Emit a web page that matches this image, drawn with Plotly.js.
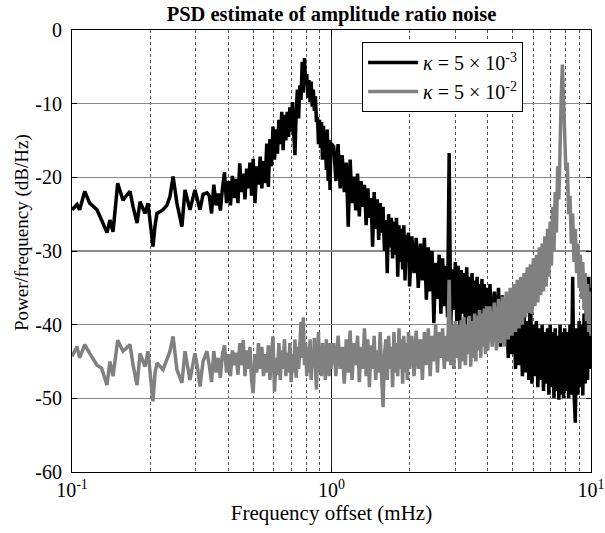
<!DOCTYPE html>
<html>
<head>
<meta charset="utf-8">
<script src="https://cdn.plot.ly/plotly-3.0.1.min.js"></script>
<style>html,body{margin:0;padding:0;background:#fff;}#chart{width:605px;height:533px;}</style>
</head>
<body>
<div id="chart"></div>
<script>
// Frequency offset (mHz)
const freq = [
  0.100, 0.1045, 0.107, 0.112, 0.117, 0.1248, 0.130, 0.1364, 0.140, 0.1439,
  0.150, 0.1572, 0.162, 0.1673, 0.1720, 0.1781, 0.1829, 0.1911, 0.1963, 0.2051,
  0.2090, 0.2126, 0.2243, 0.2320, 0.2385, 0.2452, 0.2537, 0.2652, 0.2726, 0.2848,
  0.2978, 0.3050, 0.3112, 0.3200, 0.3311,
  0.338, 0.345, 0.352, 0.359, 0.366, 0.373, 0.380, 0.387, 0.394, 0.401,
  0.408, 0.415, 0.422, 0.429, 0.436, 0.443, 0.450, 0.457, 0.464, 0.471,
  0.478, 0.485, 0.492, 0.499, 0.507, 0.515, 0.523, 0.531, 0.539, 0.547,
  0.555, 0.563, 0.571, 0.579, 0.587, 0.595, 0.603, 0.611, 0.619, 0.627,
  0.635, 0.643, 0.651, 0.659, 0.667, 0.675, 0.683, 0.691, 0.699, 0.707,
  0.715, 0.723, 0.731, 0.739, 0.747, 0.755, 0.763, 0.771, 0.779, 0.787,
  0.795, 0.803, 0.811, 0.819, 0.827, 0.835, 0.843, 0.851, 0.859, 0.867,
  0.875, 0.883, 0.891, 0.899, 0.907, 0.915, 0.923, 0.931, 0.939, 0.947,
  0.955, 0.963, 0.971, 0.979, 0.987, 0.995,
  1.02, 1.04, 1.06, 1.08, 1.10, 1.12, 1.14, 1.16, 1.18, 1.20,
  1.22, 1.24, 1.26, 1.28, 1.30, 1.32, 1.34, 1.36, 1.38, 1.40,
  1.42, 1.44, 1.46, 1.48, 1.50, 1.52, 1.54, 1.56, 1.58, 1.60,
  1.62, 1.64, 1.66, 1.68, 1.70, 1.72, 1.74, 1.76, 1.78, 1.80,
  1.82, 1.84, 1.86, 1.88, 1.90, 1.92, 1.94, 1.96, 1.98, 2.00,
  2.04, 2.08, 2.12, 2.16, 2.20, 2.24, 2.28, 2.32, 2.36, 2.40,
  2.44, 2.48, 2.52, 2.56, 2.60, 2.64, 2.68, 2.72, 2.76, 2.80,
  2.84, 2.88, 2.92, 2.96, 3.00, 3.04, 3.08, 3.12, 3.16, 3.20,
  3.24, 3.28, 3.32, 3.36, 3.40, 3.44, 3.48, 3.52, 3.56, 3.60,
  3.64, 3.68, 3.72, 3.76, 3.80, 3.84, 3.88, 3.92, 3.96, 4.00,
  4.08, 4.16, 4.24, 4.32, 4.40, 4.48, 4.56, 4.64, 4.72, 4.80,
  4.88, 4.96, 5.04, 5.12, 5.20, 5.28, 5.36, 5.44, 5.52, 5.60,
  5.68, 5.76, 5.84, 5.92, 6.00, 6.08, 6.16, 6.24, 6.32, 6.40,
  6.48, 6.56, 6.64, 6.72, 6.80, 6.88, 6.96, 7.04, 7.12, 7.20,
  7.28, 7.36, 7.44, 7.52, 7.60, 7.68, 7.76, 7.84, 7.92, 8.00,
  8.10, 8.20, 8.30, 8.40, 8.50, 8.60, 8.70, 8.80, 8.90, 9.00,
  9.10, 9.20, 9.30, 9.40, 9.50, 9.60, 9.70, 9.80, 9.90, 10.00
];

// PSD for kappa = 5e-3 (dB/Hz)
const psdKappa3 = [
  -24.4, -23.7, -24.4, -21.9, -23.5, -24.4, -25.8, -27.5, -25.8, -27.4,
  -20.8, -23.1, -22.5, -21.9, -24.0, -26.2, -23.3, -24.9, -23.5, -29.4,
  -26.5, -24.9, -24.4, -23.8, -22.6, -19.9, -23.5, -26.7, -21.7, -24.4,
  -21.7, -23.0, -24.4, -22.3, -22.1,
  -22.5, -24.9, -21.0, -23.8, -22.2, -24.5, -21.5, -19.3, -23.5, -20.5,
  -23.8, -19.8, -22.8, -20.2, -23.5, -18.1, -22.0, -19.5, -23.0, -18.8,
  -21.5, -18.0, -22.5, -17.5, -23.5, -18.5, -21.0, -17.2, -21.5, -17.8,
  -20.8, -15.4, -21.3, -14.8, -18.5, -13.1, -17.6, -13.5, -16.8, -12.2,
  -15.5, -11.1, -16.3, -11.5, -15.0, -11.1, -14.5, -10.5, -13.8, -9.8,
  -14.0, -17.0, -11.0, -8.1, -12.0, -7.5, -9.5, -4.3, -8.5, -3.8,
  -7.5, -6.0, -9.2, -6.8, -9.8, -7.0, -10.4, -8.1, -11.0, -9.0,
  -12.5, -11.8, -15.5, -12.2, -16.0, -12.5, -17.6, -13.0, -16.5, -14.0,
  -19.0, -13.5, -20.5, -14.9, -21.7, -15.4,
  -15.8, -20.5, -15.5, -21.5, -17.0, -22.0, -18.0, -26.7, -17.6, -23.5,
  -19.9, -24.5, -19.5, -25.3, -20.5, -24.0, -21.0, -26.5, -21.5, -25.5,
  -22.8, -29.4, -22.0, -27.0, -23.0, -28.5, -23.5, -27.5, -24.0, -30.0,
  -25.8, -33.0, -25.0, -29.5, -25.5, -31.0, -26.0, -30.5, -25.5, -33.5,
  -26.5, -31.5, -27.0, -32.5, -26.5, -34.0, -27.8, -31.5, -27.5, -34.8,
  -28.0, -33.0, -28.2, -35.0, -29.0, -34.0, -28.2, -36.6, -29.5, -35.5,
  -30.0, -39.8, -31.6, -36.5, -30.5, -38.5, -31.0, -37.5, -32.0, -39.0,
  -16.7, -40.3, -32.5, -38.0, -31.5, -39.5, -32.0, -40.3, -32.6, -38.5,
  -33.0, -40.0, -32.2, -39.0, -33.5, -40.5, -33.0, -39.5, -34.0, -40.5,
  -33.5, -41.0, -34.5, -40.0, -33.8, -41.5, -34.5, -40.5, -35.0, -41.5,
  -34.5, -42.0, -35.5, -41.0, -35.0, -43.0, -36.0, -42.5, -37.0, -44.5,
  -36.5, -44.0, -38.0, -46.0, -38.5, -45.5, -39.0, -47.0, -38.5, -46.5,
  -39.5, -47.5, -34.3, -48.0, -40.0, -47.0, -39.5, -48.5, -40.5, -47.5,
  -40.0, -49.0, -41.0, -48.0, -40.5, -49.5, -40.0, -48.5, -41.0, -50.0,
  -40.5, -49.0, -41.5, -50.2, -40.0, -49.5, -41.0, -50.0, -40.5, -49.0,
  -41.0, -50.0, -40.0, -49.5, -33.5, -49.0, -53.3, -40.5, -49.5, -39.5,
  -48.5, -40.0, -49.6, -38.5, -48.0, -36.0, -47.5, -33.5, -46.0, -35.0
];

// PSD for kappa = 5e-2 (dB/Hz)
const psdKappa2 = [
  -44.3, -43.0, -44.5, -42.7, -43.9, -45.5, -45.9, -48.2, -45.0, -47.0,
  -42.1, -43.6, -43.2, -42.7, -45.5, -48.2, -43.9, -45.7, -43.6, -50.4,
  -46.5, -45.2, -46.1, -44.8, -43.6, -41.6, -46.1, -47.9, -43.6, -47.5,
  -43.9, -46.0, -48.4, -45.0, -43.6,
  -45.5, -47.8, -43.6, -46.5, -44.5, -47.2, -44.0, -42.8, -46.5, -44.0,
  -47.0, -43.5, -45.5, -43.8, -46.8, -42.5, -45.5, -42.1, -47.0, -43.5,
  -46.0, -43.0, -47.5, -49.3, -44.0, -46.5, -42.5, -46.0, -43.0, -47.0,
  -44.0, -46.5, -42.8, -47.5, -44.0, -41.6, -49.1, -44.5, -46.8, -42.5,
  -47.5, -43.5, -46.0, -42.0, -47.0, -43.8, -46.5, -42.5, -47.8, -44.0,
  -46.5, -42.0, -47.2, -43.0, -46.0, -41.5, -39.6, -44.5, -39.0, -45.5,
  -42.5, -47.0, -43.0, -46.5, -42.0, -47.5, -43.5, -45.8, -41.8, -46.0,
  -48.8, -44.0, -41.0, -46.5, -43.0, -47.0, -42.5, -46.0, -43.5, -47.5,
  -42.0, -45.5, -43.0, -47.0, -42.5, -46.0,
  -42.5, -47.0, -41.5, -46.0, -43.0, -48.0, -42.0, -46.5, -40.8, -47.5,
  -42.5, -45.5, -41.5, -47.8, -43.0, -46.0, -40.5, -47.0, -42.0, -48.5,
  -42.8, -46.0, -41.5, -47.5, -43.5, -46.5, -41.0, -47.0, -51.2, -44.0,
  -42.0, -47.5, -41.5, -46.0, -43.0, -48.5, -41.0, -46.5, -42.5, -47.0,
  -40.5, -46.0, -42.0, -48.0, -41.5, -46.5, -42.5, -47.5, -41.0, -46.0,
  -41.5, -47.0, -40.8, -46.0, -42.0, -47.5, -41.0, -45.5, -40.5, -47.0,
  -41.5, -45.0, -40.0, -46.5, -41.0, -44.5, -40.5, -46.0, -41.5, -45.0,
  -33.9, -45.5, -40.0, -46.0, -39.5, -44.5, -40.0, -46.0, -39.4, -45.0,
  -39.0, -45.5, -40.0, -44.0, -38.8, -45.7, -39.5, -44.5, -38.5, -45.0,
  -38.8, -43.5, -38.0, -44.5, -38.5, -43.0, -37.8, -44.0, -37.5, -43.5,
  -37.5, -43.0, -37.0, -43.5, -36.5, -42.5, -36.2, -43.0, -35.5, -42.0,
  -35.0, -41.5, -34.5, -41.0, -33.9, -40.5, -33.5, -40.0, -33.0, -39.0,
  -32.2, -38.4, -31.8, -38.5, -31.0, -37.5, -30.5, -37.0, -29.5, -36.0,
  -29.0, -35.5, -28.0, -34.8, -27.0, -33.5, -26.0, -32.0, -24.0, -30.0,
  -22.0, -27.5, -18.5, -23.0, -13.0, -9.0, -4.7, -10.0, -14.5, -19.0,
  -18.0, -25.0, -22.5, -29.0, -24.9, -31.5, -27.0, -33.0, -29.0, -35.0,
  -30.5, -36.5, -31.5, -38.0, -33.0, -39.5, -34.5, -41.0, -35.5, -41.5
];

const seriesNames = [
  '<i>κ</i> = 5 × 10<sup>-3</sup>',
  '<i>κ</i> = 5 × 10<sup>-2</sup>'
];
const seriesColors = ['#000000', '#808080'];
const xTickVals = [0.1, 1, 10];
const xTickText = ['10<sup>-1</sup>', '10<sup>0</sup>', '10<sup>1</sup>'];
const xMinorVals = [0.2, 0.3, 0.4, 0.5, 0.6, 0.7, 0.8, 0.9, 2, 3, 4, 5, 6, 7, 8, 9];
const yTickVals = [-60, -50, -40, -30, -20, -10, 0];
const yTickText = ['-60\u00A0', '-50\u00A0', '-40\u00A0', '-30\u00A0', '-20\u00A0', '-10\u00A0', '0\u00A0'];

if (freq.length !== psdKappa3.length || freq.length !== psdKappa2.length) {
  console.error('length mismatch', freq.length, psdKappa3.length, psdKappa2.length);
}

const FONT = "'Liberation Serif', 'Times New Roman', Times, serif";

const traces = [psdKappa3, psdKappa2].map((vals, i) => ({
  type: 'scatter',
  mode: 'lines',
  x: freq,
  y: vals,
  name: seriesNames[i],
  line: {color: seriesColors[i], width: 3.5},
  hoverinfo: 'skip'
}));

const layout = {
  width: 605,
  height: 533,
  margin: {l: 72, r: 14, t: 30, b: 61},
  paper_bgcolor: '#ffffff',
  plot_bgcolor: '#ffffff',
  font: {family: FONT, size: 20, color: '#000'},
  title: {
    text: '<b>PSD estimate of amplitude ratio noise</b>',
    font: {family: FONT, size: 20.5, color: '#000'},
    x: 0.5, xref: 'paper', xanchor: 'center',
    y: 0.974, yref: 'container', yanchor: 'middle'
  },
  showlegend: true,
  legend: {
    x: 0.559, y: 0.973, xanchor: 'left', yanchor: 'top',
    bgcolor: '#ffffff', bordercolor: '#000', borderwidth: 1,
    font: {family: FONT, size: 20, color: '#000'},
    itemwidth: 50
  },
  xaxis: {
    type: 'log',
    range: [-1, 1],
    tickmode: 'array',
    tickvals: xTickVals,
    ticktext: xTickText,
    ticks: 'inside', ticklen: 5, tickcolor: '#000',
    showline: true, linecolor: '#000', linewidth: 1, mirror: 'ticks',
    showgrid: true, gridcolor: '#222', gridwidth: 1,
    zeroline: false,
    tickfont: {family: FONT, size: 20, color: '#000'},
    minor: {tickmode: 'array', tickvals: xMinorVals, showgrid: true,
            gridcolor: '#555', gridwidth: 1, griddash: 'dot', ticks: ''},
    title: {text: 'Frequency offset (mHz)', font: {family: FONT, size: 21, color: '#000'}, standoff: 0}
  },
  yaxis: {
    range: [-60, 0],
    tickmode: 'array',
    tickvals: yTickVals,
    ticktext: yTickText,
    ticks: 'inside', ticklen: 5, tickcolor: '#000',
    showline: true, linecolor: '#000', linewidth: 1, mirror: 'ticks',
    showgrid: true, gridcolor: '#8a8a8a', gridwidth: 1.5,
    zeroline: false,
    tickfont: {family: FONT, size: 20, color: '#000'}
  },
  annotations: [{
    text: 'Power/frequency (dB/Hz)',
    xref: 'paper', yref: 'paper',
    x: -0.096, y: 0.541,
    xanchor: 'center', yanchor: 'middle',
    textangle: -90, showarrow: false,
    font: {family: FONT, size: 19, color: '#000'}
  }]
};

Plotly.newPlot('chart', traces, layout, {staticPlot: true, displayModeBar: false});
</script>
</body>
</html>
